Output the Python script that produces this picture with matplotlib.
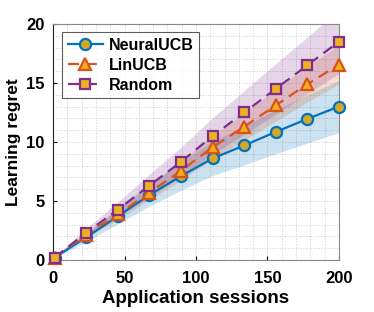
import numpy as np
import matplotlib
matplotlib.use("Agg")
import matplotlib.pyplot as plt
from matplotlib.ticker import MultipleLocator

# sessions where the regret was sampled
sessions = [1, 23.1, 45.2, 67.3, 89.4, 111.6, 133.7, 155.8, 177.9, 200]

# mean regret per method
neural_mean = [0.2, 1.9, 3.7, 5.5, 7.1, 8.6, 9.7, 10.85, 11.95, 13.0]
lin_mean = [0.2, 2.15, 3.85, 5.7, 7.55, 9.55, 11.3, 13.1, 14.9, 16.55]
rand_mean = [0.2, 2.3, 4.25, 6.3, 8.3, 10.5, 12.5, 14.5, 16.5, 18.5]

# spread of the shaded bands
neural_std = [0.05, 0.35, 0.65, 0.95, 1.2, 1.45, 1.65, 1.85, 2.05, 2.2]
lin_std = [0.05, 0.25, 0.45, 0.6, 0.8, 1.0, 1.15, 1.35, 1.5, 1.65]
rand_std = [0.05, 0.35, 0.65, 0.95, 1.25, 1.55, 1.85, 2.15, 2.4, 2.7]

labels = ['NeuralUCB', 'LinUCB', 'Random']

blue = '#0072BD'
orange = '#D95319'
purple = '#7E2F8E'
gold = '#EDB120'

plt.rcParams['font.family'] = ['Liberation Sans', 'DejaVu Sans']
plt.rcParams['font.weight'] = 'bold'

fig = plt.figure(figsize=(3.74, 3.12), dpi=100)
ax = fig.add_axes([0.142, 0.167, 0.764, 0.756])

x = np.array(sessions)
for mean, std, col in [(neural_mean, neural_std, blue),
                       (lin_mean, lin_std, orange),
                       (rand_mean, rand_std, purple)]:
    m = np.array(mean)
    s = np.array(std)
    ax.fill_between(x, m - s, m + s, color=col, alpha=0.2, lw=0)

ax.plot(x, neural_mean, '-', color=blue, lw=1.6, marker='o', ms=8,
        mfc='#D4A92A', mec=blue, mew=1.6, label=labels[0], clip_on=False, zorder=5)
ax.plot(x, lin_mean, '--', color=orange, lw=1.6, marker='^', ms=9,
        mfc=gold, mec=orange, mew=1.6, label=labels[1], clip_on=False, zorder=5,
        dashes=(5, 3))
ax.plot(x, rand_mean, '--', color=purple, lw=1.6, marker='s', ms=7,
        mfc=gold, mec=purple, mew=1.6, label=labels[2], clip_on=False, zorder=5,
        dashes=(5, 3))

ax.set_xlim(0, 200)
ax.set_ylim(0, 20)
ax.xaxis.set_major_locator(MultipleLocator(50))
ax.yaxis.set_major_locator(MultipleLocator(5))
ax.xaxis.set_minor_locator(MultipleLocator(10))
ax.yaxis.set_minor_locator(MultipleLocator(1))
ax.grid(which='both', color='#cccccc', ls=':', lw=0.7)
ax.set_axisbelow(True)
ax.tick_params(which='both', direction='in', labelsize=12, length=3)
ax.tick_params(which='minor', length=0)
ax.tick_params(axis='x', pad=8)
ax.tick_params(axis='y', pad=6)

for side in ['top', 'right', 'bottom']:
    ax.spines[side].set_color('#888888')
ax.spines['left'].set_color('#222222')

ax.set_xlabel('Application sessions', fontsize=13.5, fontweight='bold', labelpad=3)
ax.set_ylabel('Learning regret', fontsize=12.5, fontweight='bold', labelpad=4)

leg = ax.legend(loc='upper left', bbox_to_anchor=(0.015, 0.985), fontsize=11.5,
                handlelength=2.2, handletextpad=0.35, frameon=True, fancybox=False,
                edgecolor='#333333', borderpad=0.35, labelspacing=0.3,
                borderaxespad=0.3)
leg.get_frame().set_linewidth(0.8)

fig.savefig('out.png', dpi=100)
